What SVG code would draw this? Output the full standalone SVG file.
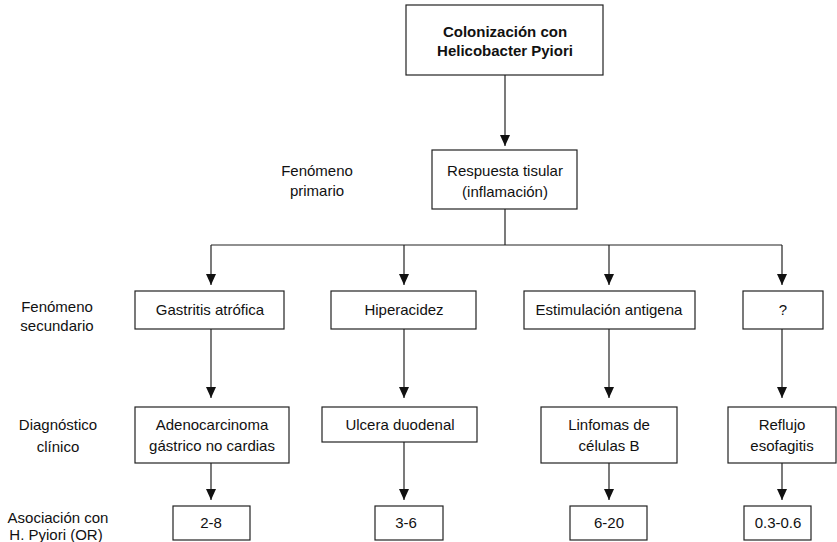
<svg xmlns="http://www.w3.org/2000/svg" width="837" height="542" viewBox="0 0 837 542">
<style>
  .box { fill: #fff; stroke: #222; stroke-width: 1.2; }
  .t { font-family: "Liberation Sans", Arial, sans-serif; font-size: 15px; fill: #111; text-anchor: middle; }
  .b { font-weight: bold; }
  .c { fill: none; stroke: #222; stroke-width: 1.2; }
</style>
<defs>
  <marker id="ah" markerUnits="userSpaceOnUse" markerWidth="11" markerHeight="11" refX="11" refY="5" orient="auto">
    <path d="M0,0 L11,5 L0,10 z" fill="#111"/>
  </marker>
</defs>
<rect width="837" height="542" fill="#fff"/>

<g id="connectors">
  <line class="c" x1="505" y1="75" x2="505" y2="146" marker-end="url(#ah)"/>
  <line class="c" x1="505" y1="209" x2="505" y2="245"/>
  <line class="c" x1="211" y1="245" x2="782" y2="245"/>
  <line class="c" x1="211" y1="245" x2="211" y2="285" marker-end="url(#ah)"/>
  <line class="c" x1="404" y1="245" x2="404" y2="285" marker-end="url(#ah)"/>
  <line class="c" x1="609" y1="245" x2="609" y2="285" marker-end="url(#ah)"/>
  <line class="c" x1="782" y1="245" x2="782" y2="285" marker-end="url(#ah)"/>
  <line class="c" x1="211" y1="329" x2="211" y2="398" marker-end="url(#ah)"/>
  <line class="c" x1="404" y1="329" x2="404" y2="398" marker-end="url(#ah)"/>
  <line class="c" x1="609" y1="329" x2="609" y2="398" marker-end="url(#ah)"/>
  <line class="c" x1="782" y1="329" x2="782" y2="398" marker-end="url(#ah)"/>
  <line class="c" x1="211" y1="463" x2="211" y2="500" marker-end="url(#ah)"/>
  <line class="c" x1="404" y1="442" x2="404" y2="500" marker-end="url(#ah)"/>
  <line class="c" x1="609" y1="463" x2="609" y2="500" marker-end="url(#ah)"/>
  <line class="c" x1="782" y1="463" x2="782" y2="500" marker-end="url(#ah)"/>
</g>

<g id="labels">
  <text class="t" x="317" y="176">Fenómeno</text>
  <text class="t" x="317" y="196">primario</text>
  <text class="t" x="57" y="312">Fenómeno</text>
  <text class="t" x="57" y="331">secundario</text>
  <text class="t" x="58" y="430">Diagnóstico</text>
  <text class="t" x="58" y="452">clínico</text>
  <text class="t" x="58" y="523">Asociación con</text>
  <text class="t" x="56" y="540">H. Pyiori (OR)</text>
</g>

<g id="n-colonizacion">
  <rect class="box" x="406" y="5" width="197" height="70"/>
  <text class="t b" x="505" y="37">Colonización con</text>
  <text class="t b" x="505" y="56">Helicobacter Pyiori</text>
</g>
<g id="n-respuesta">
  <rect class="box" x="432" y="150" width="145" height="59"/>
  <text class="t" x="505" y="176">Respuesta tisular</text>
  <text class="t" x="505" y="197">(inflamación)</text>
</g>

<g id="n-gastritis">
  <rect class="box" x="135" y="291" width="149" height="38"/>
  <text class="t" x="210" y="315">Gastritis atrófica</text>
</g>
<g id="n-hiperacidez">
  <rect class="box" x="331" y="291" width="145" height="38"/>
  <text class="t" x="404" y="315">Hiperacidez</text>
</g>
<g id="n-estimulacion">
  <rect class="box" x="524" y="291" width="171" height="38"/>
  <text class="t" x="609" y="315">Estimulación antigena</text>
</g>
<g id="n-question">
  <rect class="box" x="743" y="291" width="80" height="38"/>
  <text class="t" x="783" y="315">?</text>
</g>

<g id="n-adenocarcinoma">
  <rect class="box" x="135" y="407" width="154" height="56"/>
  <text class="t" x="212" y="430">Adenocarcinoma</text>
  <text class="t" x="212" y="451">gástrico no cardias</text>
</g>
<g id="n-ulcera">
  <rect class="box" x="322" y="407" width="155" height="35"/>
  <text class="t" x="400" y="430">Ulcera duodenal</text>
</g>
<g id="n-linfomas">
  <rect class="box" x="541" y="407" width="136" height="56"/>
  <text class="t" x="609" y="430">Linfomas de</text>
  <text class="t" x="609" y="451">células B</text>
</g>
<g id="n-reflujo">
  <rect class="box" x="728" y="407" width="108" height="56"/>
  <text class="t" x="782" y="430">Reflujo</text>
  <text class="t" x="782" y="451">esofagitis</text>
</g>

<g id="n-or1">
  <rect class="box" x="173" y="506" width="77" height="34"/>
  <text class="t" x="211" y="528">2-8</text>
</g>
<g id="n-or2">
  <rect class="box" x="375" y="506" width="68" height="34"/>
  <text class="t" x="406" y="528">3-6</text>
</g>
<g id="n-or3">
  <rect class="box" x="570" y="506" width="77" height="34"/>
  <text class="t" x="609" y="528">6-20</text>
</g>
<g id="n-or4">
  <rect class="box" x="744" y="506" width="67" height="34"/>
  <text class="t" x="778" y="528">0.3-0.6</text>
</g>
</svg>
